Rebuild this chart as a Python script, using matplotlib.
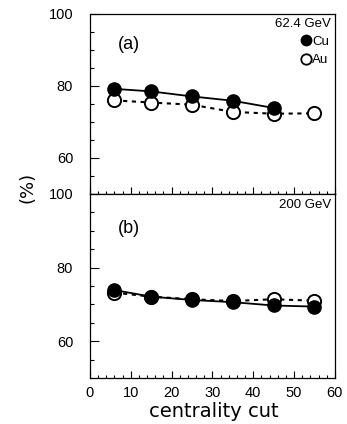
import numpy as np
import matplotlib
matplotlib.use("Agg")
import matplotlib.pyplot as plt
from matplotlib.lines import Line2D
from matplotlib.ticker import MultipleLocator

plt.rcParams['font.family'] = ['Liberation Sans', 'DejaVu Sans']

# centrality cut values (%)
cent = [6, 15, 25, 35, 45, 55]

# (a) 62.4 GeV
cu_62 = [79.2, 78.5, 77.1, 75.9, 73.9]
au_62 = [76.0, 75.4, 74.8, 72.8, 72.3, 72.4]

# (b) 200 GeV
cu_200 = [73.9, 72.1, 71.2, 70.6, 69.7, 69.4]
au_200 = [73.2, 72.1, 71.4, 70.9, 71.4, 71.0]

fig = plt.figure(figsize=(3.47, 4.24), dpi=100)
ax1 = fig.add_axes([0.259, 0.5425, 0.706, 0.4245])
ax2 = fig.add_axes([0.259, 0.1085, 0.706, 0.434])

panels = [
    (ax1, cu_62, au_62, "(a)", "62.4 GeV", 0.83),
    (ax2, cu_200, au_200, "(b)", "200 GeV", 0.815),
]

for ax, cu, au, tag, energy, ty in panels:
    ax.plot(cent[:len(au)], au, color='black', lw=1.5, ls=(0, (2, 2.2)),
            marker='o', ms=9.5, mfc='white', mec='black', mew=1.4, zorder=2)
    ax.plot(cent[:len(cu)], cu, color='black', lw=1.3, ls='-',
            marker='o', ms=9.5, mfc='black', mec='black', zorder=3)
    ax.set_xlim(0, 60)
    ax.set_ylim(50, 100)
    ax.set_yticks([60, 80, 100])
    ax.yaxis.set_minor_locator(MultipleLocator(5))
    ax.xaxis.set_major_locator(MultipleLocator(10))
    ax.xaxis.set_minor_locator(MultipleLocator(2))
    ax.tick_params(which='both', direction='in', top=False, right=False,
                   labelsize=10.5, width=0.8)
    ax.tick_params(axis='x', which='major', length=5, pad=6)
    ax.tick_params(axis='x', which='minor', length=2.5)
    ax.tick_params(axis='y', which='major', length=6.5, pad=12)
    ax.tick_params(axis='y', which='minor', length=3)
    for s in ax.spines.values():
        s.set_linewidth(0.9)
    ax.text(0.115, ty, tag, transform=ax.transAxes, fontsize=13, va='center')
    ax.text(0.985, 0.975, energy, transform=ax.transAxes, fontsize=9.5,
            ha='right', va='top')

ax1.tick_params(axis='x', labelbottom=False)
ax2.set_xticks([0, 10, 20, 30, 40, 50, 60])

handles = [
    Line2D([], [], ls='none', marker='o', ms=7.5, mfc='black', mec='black'),
    Line2D([], [], ls='none', marker='o', ms=7.5, mfc='white', mec='black', mew=1.3),
]
ax1.legend(handles, ["Cu", "Au"], loc='upper right', bbox_to_anchor=(1.015, 0.93),
           frameon=False, fontsize=9.5, handlelength=0.7, handletextpad=0.1,
           labelspacing=0.45, borderpad=0.2)

fig.text(0.08, 0.557, "(%)", rotation=90, fontsize=13, ha='center', va='center',
         family='DejaVu Sans')
fig.text(0.615, 0.006, "centrality cut", fontsize=14, ha='center', va='bottom',
         family='DejaVu Sans')

fig.savefig("out.png", dpi=100)
